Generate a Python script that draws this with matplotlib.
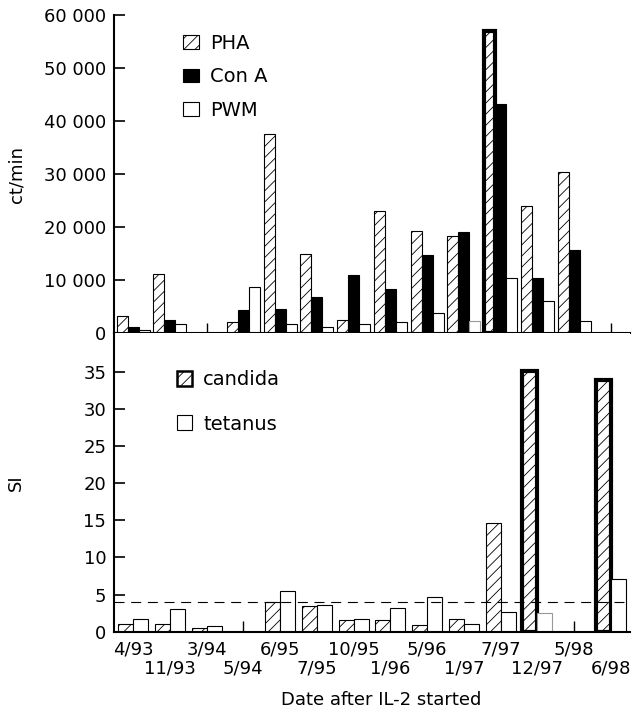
import numpy as np
import matplotlib
matplotlib.use('Agg')
import matplotlib.pyplot as plt
from matplotlib.patches import Patch
from matplotlib.ticker import FuncFormatter

nan = np.nan

dates = ['4/93', '11/93', '3/94', '5/94', '6/95', '7/95', '10/95',
         '1/96', '5/96', '1/97', '7/97', '12/97', '5/98', '6/98']

# ct/min (nan = not done)
pha = [3300, 11200, nan, 2100, 37500, 15000, 2500,
       23000, 19300, 18400, 57000, 24000, 30400, nan]
con_a = [1200, 2500, nan, 4300, 4600, 6800, 10900,
         8400, 14800, 19100, 43200, 10500, 15700, nan]
pwm = [600, 1800, nan, 8800, 1800, 1200, 1800,
       2100, 3800, 2300, 10500, 6100, 2300, nan]

# stimulation index
candida = [1.0, 1.0, 0.45, nan, 4.0, 3.45, 1.55,
           1.55, 0.85, 1.65, 14.6, 35.1, nan, 33.9]
tetanus = [1.7, 3.05, 0.75, nan, 5.55, 3.6, 1.7,
           3.2, 4.65, 1.0, 2.6, 2.5, nan, 7.05]
si_cutoff = 4

boxed_pha = [10]
boxed_candida = [11, 13]
grey_pwm = [9]
grey_tetanus = [11]

plt.rcParams['font.family'] = 'DejaVu Sans'
plt.rcParams['font.size'] = 13
plt.rcParams['hatch.linewidth'] = 0.6
plt.rcParams['axes.linewidth'] = 1.5

fig = plt.figure(figsize=(6.36, 7.19), dpi=100)
ax1 = fig.add_axes([0.1792, 0.5364, 0.8113, 0.4431])
ax2 = fig.add_axes([0.1792, 0.1214, 0.8113, 0.415])

x = np.arange(len(dates))

# --- top panel: mitogens ---
w = 0.3
b_pha = ax1.bar(x - w, pha, w, color='white', edgecolor='black',
                hatch='///', lw=0.8)
ax1.bar(x, con_a, w, color='black', edgecolor='black', lw=0.8)
b_pwm = ax1.bar(x + w, pwm, w, color='white', edgecolor='black', lw=0.8)
for i in boxed_pha:
    b_pha[i].set_linewidth(3)
for i in grey_pwm:
    b_pwm[i].set_edgecolor('#999999')
for i in x[np.isnan(pha)]:
    ax1.vlines(i, 0, 2000, color='black', lw=1)

ax1.set_xlim(-0.52, 13.52)
ax1.set_ylim(0, 60000)
ax1.set_yticks(range(0, 60001, 10000))
ax1.yaxis.set_major_formatter(FuncFormatter(lambda v, p: f'{int(v):,}'.replace(',', ' ')))
ax1.tick_params(axis='x', bottom=False, labelbottom=False)
ax1.tick_params(axis='y', direction='in', length=8, width=1.2, pad=5.5)
ax1.spines[['top', 'right']].set_visible(False)
ax1.set_ylabel('ct/min')
ax1.yaxis.set_label_coords(-0.172, 0.5)

h1 = [Patch(facecolor='white', edgecolor='black', hatch='///', lw=0.8),
      Patch(facecolor='black', edgecolor='black', lw=0.8),
      Patch(facecolor='white', edgecolor='black', lw=0.8)]
ax1.legend(h1, ['PHA', 'Con A', 'PWM'], loc='upper left',
           bbox_to_anchor=(0.134, 0.940), frameon=False, fontsize=14,
           handlelength=0.82, handleheight=0.72, handletextpad=0.57,
           labelspacing=0.74, borderpad=0, borderaxespad=0)

# --- bottom panel: antigens ---
w2 = 0.41
b_can = ax2.bar(x - w2 / 2, candida, w2, color='white', edgecolor='black',
                hatch='///', lw=0.8)
b_tet = ax2.bar(x + w2 / 2, tetanus, w2, color='white', edgecolor='black', lw=0.8)
for i in boxed_candida:
    b_can[i].set_linewidth(3)
for i in grey_tetanus:
    b_tet[i].set_edgecolor('#999999')
for i in x[np.isnan(candida)]:
    ax2.vlines(i, 0, 1.4, color='black', lw=1)
ax2.axhline(si_cutoff, color='black', lw=0.8, dashes=(9, 6), zorder=5)

ax2.set_xlim(-0.52, 13.52)
ax2.set_ylim(0, 40.2)
ax2.set_yticks(range(0, 36, 5))
ax2.tick_params(axis='y', direction='in', length=8, width=1.2, pad=5.5)
ax2.set_xticks(x[::2])
ax2.set_xticklabels(dates[::2])
ax2.set_xticks(x[1::2], minor=True)
ax2.set_xticklabels(dates[1::2], minor=True)
ax2.tick_params(axis='x', which='both', length=0)
ax2.tick_params(axis='x', which='major', pad=6)
ax2.tick_params(axis='x', which='minor', pad=20)
ax2.spines[['top', 'right']].set_visible(False)
ax2.set_ylabel('SI')
ax2.yaxis.set_label_coords(-0.172, 0.5)
ax2.set_xlabel('Date after IL-2 started')
ax2.xaxis.set_label_coords(0.517, -0.2)

h2 = [Patch(facecolor='white', edgecolor='black', hatch='///', lw=1.8),
      Patch(facecolor='white', edgecolor='black', lw=0.8)]
ax2.legend(h2, ['candida', 'tetanus'], loc='upper left',
           bbox_to_anchor=(0.122, 0.876), frameon=False, fontsize=14,
           handlelength=0.8, handleheight=0.8, handletextpad=0.55,
           labelspacing=1.3, borderpad=0, borderaxespad=0)

fig.savefig('out.png', dpi=100)
